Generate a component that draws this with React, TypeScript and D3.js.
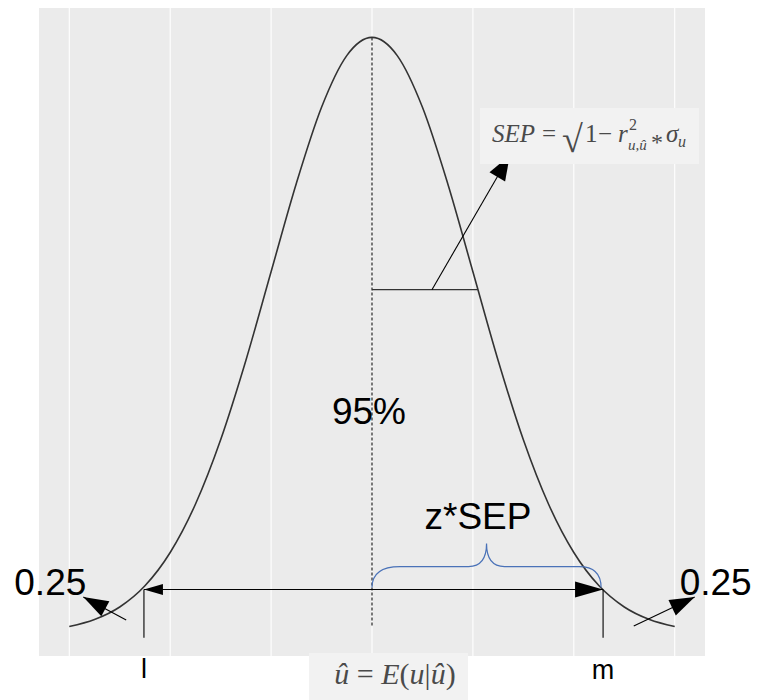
import React from "react";
import * as d3 from "d3";

// density curve values (x step 0.25 from -3 to 3)
const curveX = [-3, -2.75, -2.5, -2.25, -2, -1.75, -1.5, -1.25, -1, -0.75, -0.5, -0.25, 0,
  0.25, 0.5, 0.75, 1, 1.25, 1.5, 1.75, 2, 2.25, 2.5, 2.75, 3];
const curveY = [0.0044, 0.0091, 0.0175, 0.0317, 0.054, 0.0863, 0.1295, 0.1826, 0.242, 0.3011, 0.3521, 0.3867, 0.3989,
  0.3867, 0.3521, 0.3011, 0.242, 0.1826, 0.1295, 0.0863, 0.054, 0.0317, 0.0175, 0.0091, 0.0044];
const gridBreaks = [-3, -2, -1, 0, 1, 2, 3];
const lowerL = -2.26;
const upperM = 2.29;
const peakY = 0.3989;
const tailY = 0.0044;
const arrowY = 0.0292;
const tickBottomY = -0.003;
const sepLineY = 0.23;
const sepLineEnd = 1.05;
const sepArrowFrom = [0.594, 0.23];
const sepArrowTo = [1.366, 0.32];
const leftTailArrow = [[-2.436, 0.0088], [-2.861, 0.0242]];
const rightTailArrow = [[2.594, 0.0048], [3.198, 0.0242]];
const tickLabels = ["l", "m"];
const pctLabel = { text: "95%", x: -0.03, y: 0.14 };
const zLabel = { text: "z*SEP", x: 1.05, y: 0.0699 };
const tailLabels = [
  { text: "0.25", x: -3.188, y: 0.0256 },
  { text: "0.25", x: 3.406, y: 0.0256 },
];

const W = 757, H = 700;
const sans = "'Liberation Sans', Arial, sans-serif";
const serif = "'Liberation Serif', 'DejaVu Serif', serif";

function head(tip: number[], from: number[], len: number, wid: number) {
  const dx = tip[0] - from[0], dy = tip[1] - from[1];
  const d = Math.hypot(dx, dy);
  const ux = dx / d, uy = dy / d;
  const bx = tip[0] - ux * len, by = tip[1] - uy * len;
  const px = -uy * wid / 2, py = ux * wid / 2;
  return `${tip[0]},${tip[1]} ${bx + px},${by + py} ${bx - px},${by - py}`;
}

export default function App() {
  const x = d3.scaleLinear().domain([-3.3, 3.3]).range([39, 705]);
  const y = d3.scaleLinear().domain([-0.0153, 0.4186]).range([656, 8]);
  const line = d3.line<number>().x((_, i) => x(curveX[i])).y((d) => y(d)).curve(d3.curveMonotoneX);

  const ay = y(arrowY);
  const xl = x(lowerL), xm = x(upperM);

  // brace
  const bx0 = x(0), bx1 = xm - 2, yb = ay - 2, yf = yb - 21, yt = yf - 23, mid = (bx0 + bx1) / 2;
  const brace = `M${bx0},${yb} Q${bx0},${yf} ${bx0 + 28},${yf} L${mid - 18},${yf} Q${mid},${yf} ${mid},${yt} Q${mid},${yf} ${mid + 18},${yf} L${bx1 - 22},${yf} Q${bx1},${yf} ${bx1},${yb}`;

  const sf = [x(sepArrowFrom[0]), y(sepArrowFrom[1])];
  const st = [x(sepArrowTo[0]), y(sepArrowTo[1])];
  const lf = [x(leftTailArrow[0][0]), y(leftTailArrow[0][1])];
  const lt = [x(leftTailArrow[1][0]), y(leftTailArrow[1][1])];
  const rf = [x(rightTailArrow[0][0]), y(rightTailArrow[0][1])];
  const rt = [x(rightTailArrow[1][0]), y(rightTailArrow[1][1])];

  const fx = 492, fy = 142; // formula origin
  const fc = "#4a4a4a";

  return (
    <svg width={W} height={H} style={{ position: "absolute", left: 0, top: 0, background: "#fff" }}>
      <rect x={x(-3.3)} y={y(0.4186)} width={x(3.3) - x(-3.3)} height={y(-0.0153) - y(0.4186)} fill="#ebebeb" />
      {gridBreaks.map((b) => (
        <line key={b} x1={x(b)} x2={x(b)} y1={y(0.4186)} y2={y(-0.0153)} stroke="#fff" strokeWidth={1.1} />
      ))}
      <path d={line(curveY) || ""} fill="none" stroke="#333" strokeWidth={1.6} />
      <line x1={x(0)} x2={x(0)} y1={y(peakY)} y2={y(tailY)} stroke="#333" strokeWidth={1.3} strokeDasharray="3,2" />
      <line x1={x(0)} x2={x(sepLineEnd)} y1={y(sepLineY)} y2={y(sepLineY)} stroke="#333" strokeWidth={1.2} />
      {/* SEP arrow */}
      <line x1={sf[0]} y1={sf[1]} x2={st[0]} y2={st[1]} stroke="#000" strokeWidth={1.1} />
      <polygon points={head(st, sf, 25, 18)} fill="#000" />
      {/* double arrow */}
      <line x1={xl} x2={xm} y1={ay} y2={ay} stroke="#000" strokeWidth={1.1} />
      <polygon points={head([xl, ay], [xm, ay], 19, 11)} fill="#000" />
      <polygon points={head([xm, ay], [xl, ay], 28, 16)} fill="#000" />
      <line x1={xl} x2={xl} y1={ay} y2={y(tickBottomY)} stroke="#000" strokeWidth={1.1} />
      <line x1={xm} x2={xm} y1={ay} y2={y(tickBottomY)} stroke="#000" strokeWidth={1.1} />
      {/* tail arrows */}
      <line x1={lf[0]} y1={lf[1]} x2={lt[0]} y2={lt[1]} stroke="#000" strokeWidth={1.1} />
      <polygon points={head(lt, lf, 25, 17)} fill="#000" />
      <line x1={rf[0]} y1={rf[1]} x2={rt[0]} y2={rt[1]} stroke="#000" strokeWidth={1.1} />
      <polygon points={head(rt, rf, 25, 17)} fill="#000" />
      {/* brace */}
      <path d={brace} fill="none" stroke="#4a72b8" strokeWidth={1.2} />
      {/* big labels */}
      <text x={x(pctLabel.x)} y={y(pctLabel.y)} textAnchor="middle" fontFamily={sans} fontSize={37}>{pctLabel.text}</text>
      <text x={x(zLabel.x)} y={y(zLabel.y)} textAnchor="middle" fontFamily={sans} fontSize={37}>{zLabel.text}</text>
      {tailLabels.map((t, i) => (
        <text key={i} x={x(t.x)} y={y(t.y)} textAnchor="middle" fontFamily={sans} fontSize={37}>{t.text}</text>
      ))}
      {/* axis labels */}
      <text x={xl} y={678} textAnchor="middle" fontFamily={sans} fontSize={27}>{tickLabels[0]}</text>
      <text x={xm} y={679} textAnchor="middle" fontFamily={sans} fontSize={27}>{tickLabels[1]}</text>
      {/* SEP formula box */}
      <rect x={480} y={108} width={219} height={56} fill="#f2f2f2" />
      <g fontFamily={serif} fill={fc}>
        <text x={fx} y={fy} fontSize={25} fontStyle="italic">SEP</text>
        <text x={fx + 50} y={fy} fontSize={25}>=</text>
        <text x={fx + 70} y={fy + 10} fontSize={38} fontWeight={300}>√</text>
        <text x={fx + 93} y={fy} fontSize={25}>1</text>
        <text x={fx + 106} y={fy} fontSize={25}>−</text>
        <text x={fx + 126} y={fy} fontSize={25} fontStyle="italic">r</text>
        <text x={fx + 137} y={fy - 12} fontSize={16}>2</text>
        <text x={fx + 136} y={fy + 8} fontSize={15} fontStyle="italic">u,û</text>
        <text x={fx + 159} y={fy + 8} fontSize={24}>*</text>
        <text x={fx + 174} y={fy} fontSize={25} fontStyle="italic">σ</text>
        <text x={fx + 186} y={fy + 5} fontSize={16} fontStyle="italic">u</text>
      </g>
      {/* bottom formula */}
      <rect x={309} y={653} width={159} height={47} fill="#f2f2f2" />
      <text x={395} y={684} textAnchor="middle" fontFamily={serif} fontSize={30} fill={fc}>
        <tspan fontStyle="italic">û</tspan>
        <tspan> = </tspan>
        <tspan fontStyle="italic">E</tspan>
        <tspan>(</tspan>
        <tspan fontStyle="italic">u</tspan>
        <tspan>|</tspan>
        <tspan fontStyle="italic">û</tspan>
        <tspan>)</tspan>
      </text>
    </svg>
  );
}
